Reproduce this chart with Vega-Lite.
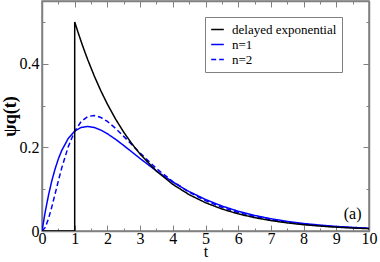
{
  "$schema": "https://vega.github.io/schema/vega-lite/v6.json",
  "autosize": {"type": "none"},
  "width": 327,
  "height": 230,
  "padding": {"left": 42, "top": 1, "right": 11, "bottom": 31},
  "background": "white",
  "config": {
    "font": "Liberation Serif",
    "view": {"stroke": "#808080", "strokeWidth": 1.5},
    "axis": {"domainColor": "#808080", "domainWidth": 1.5, "tickColor": "#808080", "tickWidth": 1, "labelFont": "Liberation Serif", "labelFontSize": 16, "labelColor": "black", "titleFont": "Liberation Serif", "titleColor": "black", "grid": false, "labelFlush": false},
    "text": {"font": "Liberation Serif"}
  },
  "datasets": {
    "delayed": [
      {"s": "delayed exponential", "i": 0, "t": 0, "v": 0},
      {"s": "delayed exponential", "i": 1, "t": 1, "v": 0},
      {"s": "delayed exponential", "i": 2, "t": 1, "v": 0.5},
      {"s": "delayed exponential", "i": 3, "t": 1.1, "v": 0.475615},
      {"s": "delayed exponential", "i": 4, "t": 1.2, "v": 0.452419},
      {"s": "delayed exponential", "i": 5, "t": 1.3, "v": 0.430354},
      {"s": "delayed exponential", "i": 6, "t": 1.4, "v": 0.409365},
      {"s": "delayed exponential", "i": 7, "t": 1.6, "v": 0.370409},
      {"s": "delayed exponential", "i": 8, "t": 1.8, "v": 0.33516},
      {"s": "delayed exponential", "i": 9, "t": 2.0, "v": 0.303265},
      {"s": "delayed exponential", "i": 10, "t": 2.25, "v": 0.267631},
      {"s": "delayed exponential", "i": 11, "t": 2.5, "v": 0.236183},
      {"s": "delayed exponential", "i": 12, "t": 2.75, "v": 0.208431},
      {"s": "delayed exponential", "i": 13, "t": 3, "v": 0.18394},
      {"s": "delayed exponential", "i": 14, "t": 3.5, "v": 0.143252},
      {"s": "delayed exponential", "i": 15, "t": 4, "v": 0.111565},
      {"s": "delayed exponential", "i": 16, "t": 4.5, "v": 0.086887},
      {"s": "delayed exponential", "i": 17, "t": 5, "v": 0.067668},
      {"s": "delayed exponential", "i": 18, "t": 5.5, "v": 0.0527},
      {"s": "delayed exponential", "i": 19, "t": 6, "v": 0.041042},
      {"s": "delayed exponential", "i": 20, "t": 6.5, "v": 0.031964},
      {"s": "delayed exponential", "i": 21, "t": 7, "v": 0.024894},
      {"s": "delayed exponential", "i": 22, "t": 7.5, "v": 0.019387},
      {"s": "delayed exponential", "i": 23, "t": 8, "v": 0.015099},
      {"s": "delayed exponential", "i": 24, "t": 8.5, "v": 0.011759},
      {"s": "delayed exponential", "i": 25, "t": 9, "v": 0.009158},
      {"s": "delayed exponential", "i": 26, "t": 9.5, "v": 0.007132},
      {"s": "delayed exponential", "i": 27, "t": 10, "v": 0.005554}
    ],
    "n1": [
      {"s": "n=1", "t": 0, "v": 0}, {"s": "n=1", "t": 0.1, "v": 0.046393}, {"s": "n=1", "t": 0.2, "v": 0.086106}, {"s": "n=1", "t": 0.3, "v": 0.11989},
      {"s": "n=1", "t": 0.4, "v": 0.148411}, {"s": "n=1", "t": 0.5, "v": 0.17227}, {"s": "n=1", "t": 0.6, "v": 0.192006}, {"s": "n=1", "t": 0.8, "v": 0.220991},
      {"s": "n=1", "t": 1.0, "v": 0.238652}, {"s": "n=1", "t": 1.2, "v": 0.247618}, {"s": "n=1", "t": 1.4, "v": 0.249988}, {"s": "n=1", "t": 1.6, "v": 0.247432},
      {"s": "n=1", "t": 1.8, "v": 0.241271}, {"s": "n=1", "t": 2.0, "v": 0.232544}, {"s": "n=1", "t": 2.25, "v": 0.219253}, {"s": "n=1", "t": 2.5, "v": 0.20442},
      {"s": "n=1", "t": 2.75, "v": 0.188912}, {"s": "n=1", "t": 3, "v": 0.173343}, {"s": "n=1", "t": 3.5, "v": 0.143577}, {"s": "n=1", "t": 4, "v": 0.117019},
      {"s": "n=1", "t": 4.5, "v": 0.09429}, {"s": "n=1", "t": 5, "v": 0.075347}, {"s": "n=1", "t": 5.5, "v": 0.059841}, {"s": "n=1", "t": 6, "v": 0.047308},
      {"s": "n=1", "t": 6.5, "v": 0.037271}, {"s": "n=1", "t": 7, "v": 0.029285}, {"s": "n=1", "t": 7.5, "v": 0.022965}, {"s": "n=1", "t": 8, "v": 0.017981},
      {"s": "n=1", "t": 8.5, "v": 0.014061}, {"s": "n=1", "t": 9, "v": 0.010986}, {"s": "n=1", "t": 9.5, "v": 0.008577}, {"s": "n=1", "t": 10, "v": 0.006693}
    ],
    "n2": [
      {"s": "n=2", "t": 0, "v": 0}, {"s": "n=2", "t": 0.1, "v": 0.008613}, {"s": "n=2", "t": 0.2, "v": 0.029709}, {"s": "n=2", "t": 0.3, "v": 0.057717},
      {"s": "n=2", "t": 0.4, "v": 0.088716}, {"s": "n=2", "t": 0.5, "v": 0.120011}, {"s": "n=2", "t": 0.6, "v": 0.149823}, {"s": "n=2", "t": 0.8, "v": 0.201023},
      {"s": "n=2", "t": 1.0, "v": 0.238397}, {"s": "n=2", "t": 1.2, "v": 0.262049}, {"s": "n=2", "t": 1.4, "v": 0.273847}, {"s": "n=2", "t": 1.6, "v": 0.276215},
      {"s": "n=2", "t": 1.8, "v": 0.271534}, {"s": "n=2", "t": 2.0, "v": 0.261885}, {"s": "n=2", "t": 2.25, "v": 0.245381}, {"s": "n=2", "t": 2.5, "v": 0.226223},
      {"s": "n=2", "t": 2.75, "v": 0.206132}, {"s": "n=2", "t": 3, "v": 0.186222}, {"s": "n=2", "t": 3.5, "v": 0.149401}, {"s": "n=2", "t": 4, "v": 0.118212},
      {"s": "n=2", "t": 4.5, "v": 0.092839}, {"s": "n=2", "t": 5, "v": 0.072622}, {"s": "n=2", "t": 5.5, "v": 0.056688}, {"s": "n=2", "t": 6, "v": 0.044201},
      {"s": "n=2", "t": 6.5, "v": 0.034445}, {"s": "n=2", "t": 7, "v": 0.026833}, {"s": "n=2", "t": 7.5, "v": 0.020902}, {"s": "n=2", "t": 8, "v": 0.01628},
      {"s": "n=2", "t": 8.5, "v": 0.012679}, {"s": "n=2", "t": 9, "v": 0.009875}, {"s": "n=2", "t": 9.5, "v": 0.007691}, {"s": "n=2", "t": 10, "v": 0.005989}
    ],
    "label": [{"t": 9.5, "v": 0.04, "text": "(a)"}]
  },
  "layer": [
    {
      "data": {"name": "n1"},
      "mark": {"type": "line", "strokeWidth": 1.5, "clip": true},
      "encoding": {
        "x": {"field": "t", "type": "quantitative", "scale": {"domain": [0, 10], "nice": false},
          "axis": {"orient": "bottom", "values": [0,0.5,1,1.5,2,2.5,3,3.5,4,4.5,5,5.5,6,6.5,7,7.5,8,8.5,9,9.5,10],
            "format": "~g",
            "labelExpr": "datum.value % 1 === 0 ? datum.label : ''",
            "labelFont": "Liberation Serif", "labelFontSize": 16,
            "tickSize": {"condition": {"test": "datum.value % 1 === 0", "value": -6}, "value": -3},
            "labelPadding": 5, "title": "t", "titleFont": "Liberation Serif", "titleFontSize": 16, "titleFontWeight": "normal", "titlePadding": -3}},
        "y": {"field": "v", "type": "quantitative", "scale": {"domain": [0, 0.55], "nice": false},
          "axis": {"orient": "left", "values": [0,0.1,0.2,0.3,0.4,0.5],
            "labelExpr": "round(datum.value*10) % 2 === 0 && datum.value < 0.45 ? datum.label : ''",
            "format": "~g",
            "labelFont": "Liberation Serif", "labelFontSize": 16,
            "tickSize": {"condition": {"test": "round(datum.value*10) % 2 === 0", "value": -6}, "value": -3},
            "labelPadding": 9, "title": "ψq(t)", "titleFont": "Liberation Serif", "titleFontSize": 18, "titleFontWeight": "bold", "titlePadding": 0}},
        "color": {"field": "s", "type": "nominal",
          "scale": {"domain": ["delayed exponential", "n=1", "n=2"], "range": ["#000000", "#0000ff", "#0000ff"]},
          "legend": {"orient": "none", "legendX": 163, "legendY": 16, "title": null, "symbolType": "stroke", "symbolSize": 160, "symbolStrokeWidth": 1.5,
            "labelFont": "Liberation Serif", "labelFontSize": 13, "labelColor": "black", "rowPadding": 0, "padding": 5,
            "strokeColor": "#808080", "fillColor": "white", "symbolOffset": 0, "labelOffset": 7, "labelLimit": 200}},
        "strokeDash": {"field": "s", "type": "nominal",
          "scale": {"domain": ["delayed exponential", "n=1", "n=2"], "range": [[1, 0], [1, 0], [5, 3]]},
          "legend": {"orient": "none", "legendX": 163, "legendY": 16, "title": null}}
      }
    },
    {
      "data": {"name": "n2"},
      "mark": {"type": "line", "strokeWidth": 1.5, "clip": true},
      "encoding": {
        "x": {"field": "t", "type": "quantitative",
          "axis": {"orient": "top", "values": [0,0.5,1,1.5,2,2.5,3,3.5,4,4.5,5,5.5,6,6.5,7,7.5,8,8.5,9,9.5,10], "labels": false, "title": null,
            "tickSize": {"condition": {"test": "datum.value % 1 === 0", "value": -6}, "value": -3}}},
        "y": {"field": "v", "type": "quantitative",
          "axis": {"orient": "right", "values": [0,0.1,0.2,0.3,0.4,0.5], "labels": false, "title": null,
            "tickSize": {"condition": {"test": "round(datum.value*10) % 2 === 0", "value": -6}, "value": -3}}},
        "color": {"field": "s", "type": "nominal"},
        "strokeDash": {"field": "s", "type": "nominal"}
      }
    },
    {
      "data": {"name": "delayed"},
      "mark": {"type": "line", "strokeWidth": 1.5, "clip": true},
      "encoding": {
        "x": {"field": "t", "type": "quantitative", "axis": null},
        "y": {"field": "v", "type": "quantitative", "axis": null},
        "order": {"field": "i", "type": "quantitative"},
        "color": {"field": "s", "type": "nominal"},
        "strokeDash": {"field": "s", "type": "nominal"}
      }
    },
    {
      "data": {"name": "label"},
      "mark": {"type": "text", "font": "Liberation Serif", "fontSize": 16, "color": "black", "align": "center", "baseline": "middle"},
      "encoding": {
        "x": {"field": "t", "type": "quantitative", "axis": null},
        "y": {"field": "v", "type": "quantitative", "axis": null},
        "text": {"field": "text"}
      }
    }
  ],
  "resolve": {"axis": {"x": "independent", "y": "independent"}}
}
